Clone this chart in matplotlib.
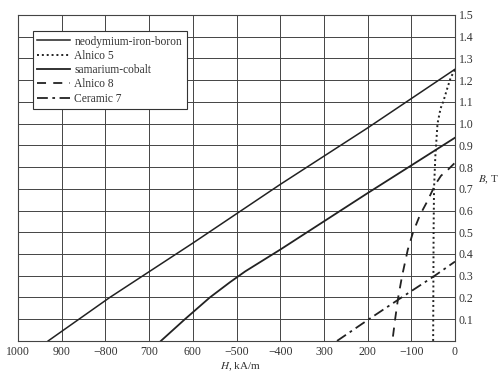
import numpy as np
import matplotlib
matplotlib.use('Agg')
import matplotlib.pyplot as plt

plt.rcParams['font.family'] = ['Liberation Serif', 'DejaVu Serif']
plt.rcParams['mathtext.fontset'] = 'stix'

# demagnetization curves, H in kA/m, B in T
ndfeb_H = [-931, -790, -600, -400, -200, 0]
ndfeb_B = [0.0, 0.20, 0.45, 0.72, 0.98, 1.25]

alnico5_H = [-50, -49, -48, -45, -40, -33, -27, -18, -10, 0]
alnico5_B = [0.0, 0.5, 0.7, 0.85, 1.0, 1.07, 1.1, 1.16, 1.21, 1.25]

smco_H = [-673, -618, -561, -515, -480, -400, -200, 0]
smco_B = [0.0, 0.10, 0.20, 0.27, 0.32, 0.42, 0.68, 0.935]

alnico8_H = [-142, -137, -130, -121, -108, -96, -80, -64, -45, -32, -15, 0]
alnico8_B = [0.02, 0.10, 0.20, 0.30, 0.42, 0.50, 0.58, 0.64, 0.72, 0.76, 0.79, 0.82]

ceramic7_H = [-270, -197, -126, -50, 0]
ceramic7_B = [0.0, 0.10, 0.195, 0.295, 0.365]

xticks = [-1000, -900, -800, -700, -600, -500, -400, -300, -200, -100, 0]
xlabels = ['1000', '900', '\u2212800', '700', '600', '\u2212500', '\u2212400',
           '300', '200', '\u2212100', '0']
yticks = [0.1, 0.2, 0.3, 0.4, 0.5, 0.6, 0.7, 0.8, 0.9, 1.0, 1.1, 1.2, 1.3, 1.4, 1.5]

fig = plt.figure(figsize=(5.0, 3.73), dpi=100)
ax = fig.add_axes([0.036, 0.086, 0.874, 0.874])

lc = '#222222'
ax.plot(ndfeb_H, ndfeb_B, color=lc, lw=1.1, ls='-', label='neodymium-iron-boron')
ax.plot(alnico5_H, alnico5_B, color=lc, lw=1.4, ls=(0, (1, 1.5)), label='Alnico 5')
ax.plot(smco_H, smco_B, color=lc, lw=1.3, ls='-', label='samarium-cobalt')
ax.plot(alnico8_H, alnico8_B, color=lc, lw=1.3, ls=(0, (5, 4)), label='Alnico 8')
ax.plot(ceramic7_H, ceramic7_B, color=lc, lw=1.3, ls=(0, (6, 2.5, 1.5, 2.5)), label='Ceramic 7')

ax.set_xlim(-1000, 0)
ax.set_ylim(0, 1.5)
ax.set_xticks(xticks)
ax.set_xticklabels(xlabels)
ax.set_yticks(yticks)
ax.set_yticklabels(['%.1f' % v for v in yticks])
ax.yaxis.tick_right()
ax.tick_params(axis='both', length=0, labelsize=8.5, colors='#333333')
ax.tick_params(axis='y', pad=2.5)
ax.tick_params(axis='x', pad=3.5)
ax.grid(True, color='#444444', lw=0.7)
for s in ax.spines.values():
    s.set_color('#444444')
    s.set_linewidth(0.8)

ax.text(0.508, -0.08, r'$H$, kA/m', transform=ax.transAxes, fontsize=8,
        color='#333333', va='center', ha='center')
ax.text(1.077, 0.494, r'$B$, T', transform=ax.transAxes, fontsize=8,
        color='#333333', va='center', ha='center')

leg = ax.legend(loc='upper left', bbox_to_anchor=(0.034, 0.951), fontsize=8.3,
                frameon=True, fancybox=False, framealpha=1, edgecolor='#333333',
                handlelength=2.8, handletextpad=0.4, labelspacing=0.2,
                borderpad=0.4, borderaxespad=0)
leg.get_frame().set_linewidth(0.8)
for t in leg.get_texts():
    t.set_color('#333333')

fig.savefig('out.png', dpi=100)
